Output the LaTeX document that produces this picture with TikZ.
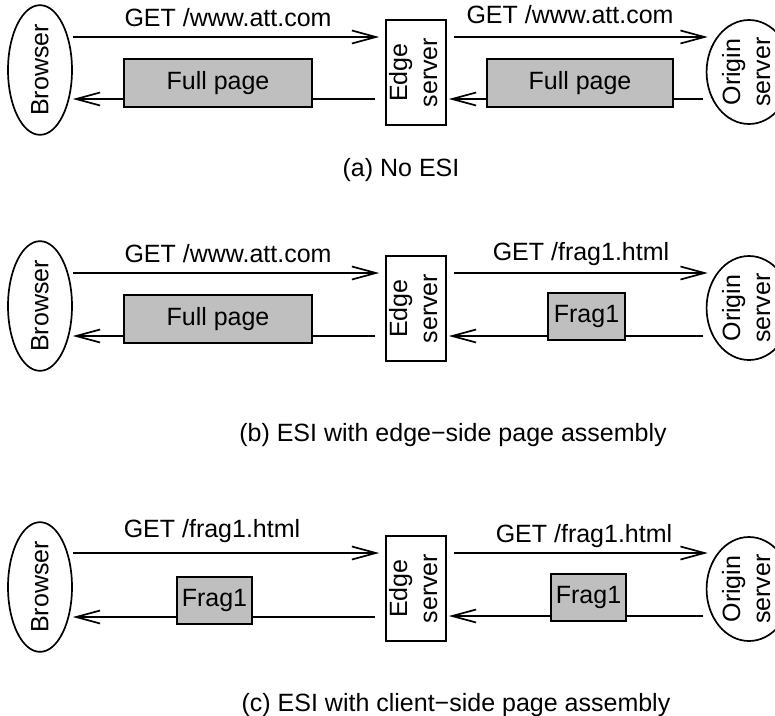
\documentclass[tikz,border=0pt]{standalone}
\usepackage{fontspec}
\setmainfont{Liberation Sans}
\usetikzlibrary{arrows.meta,shapes.geometric}
\tikzset{
  ln/.style={line width=1.7pt},
  arr/.style={ln,-{Straight Barb[length=24pt,width=13pt,line width=1.7pt]}},
  ell/.style={ln,draw,ellipse,inner sep=0pt},
  browser/.style={ell,minimum width=64pt,minimum height=114pt},
  origin/.style={ell,minimum width=58pt,minimum height=104pt},
  edgebox/.style={ln,draw,rectangle,inner sep=0pt,minimum width=58pt,minimum height=105pt},
  content/.style={ln,draw,fill=black!25,rectangle,inner sep=0pt,minimum height=48pt},
  lbl/.style={anchor=base,inner sep=0pt}
}
\newcommand{\twoline}[2]{\rotatebox{90}{\begin{tabular}{@{}c@{}}#1\\#2\end{tabular}}}
\begin{document}
\begin{tikzpicture}[x=1pt,y=-1pt,font=\fontsize{25}{30}\selectfont]
\useasboundingbox (0,0) rectangle (775,715);
\clip (0,0) rectangle (775,715);
% ---------------- (a) ----------------
\node[browser] (b1) at (40,70) {\rotatebox{90}{Browser}};
\node[edgebox] (e1) at (416,72.5) {\twoline{Edge}{server}};
\node[origin] (o1) at (749,72) {\twoline{Origin}{server}};
\draw[arr] (b1.east |- 0,37) -- ([xshift=-6pt]e1.west |- 0,37);
\draw[arr] ([xshift=7pt]e1.east |- 0,37) -- ([xshift=2pt]o1.west |- 0,37);
\draw[arr] ([xshift=-10pt]e1.west |- 0,99) -- (b1.east |- 0,99);
\draw[arr] ([xshift=-3pt]o1.west |- 0,99) -- ([xshift=2pt]e1.east |- 0,99);
\node[content,minimum width=188pt] (c1) at (218,83) {Full page};
\node[content,minimum width=186pt] (c2) at (580,83) {Full page};
\node[lbl] (t1) at (228,26) {GET /www.att.com};
\node[lbl] (t2) at (570,23) {GET /www.att.com};
\node[lbl] (capa) at (401,176) {(a) No ESI};
% ---------------- (b) ----------------
\node[browser] (b2) at (40,306) {\rotatebox{90}{Browser}};
\node[edgebox] (e2) at (416,308.5) {\twoline{Edge}{server}};
\node[origin] (o2) at (749,308) {\twoline{Origin}{server}};
\draw[arr] (b2.east |- 0,273) -- ([xshift=-6pt]e2.west |- 0,273);
\draw[arr] ([xshift=7pt]e2.east |- 0,273) -- ([xshift=2pt]o2.west |- 0,273);
\draw[arr] ([xshift=-10pt]e2.west |- 0,336) -- (b2.east |- 0,336);
\draw[arr] ([xshift=-3pt]o2.west |- 0,336) -- ([xshift=2pt]e2.east |- 0,336);
\node[content,minimum width=188pt] (c3) at (218,319) {Full page};
\node[content,minimum width=77pt,minimum height=47pt] (c4) at (586.5,316.5) {Frag1};
\node[lbl] (t3) at (228,262) {GET /www.att.com};
\node[lbl] (t4) at (581,260) {GET /frag1.html};
\node[lbl] (capb) at (453,441) {(b) ESI with edge\textminus side page assembly};
% ---------------- (c) ----------------
\node[browser] (b3) at (40,587) {\rotatebox{90}{Browser}};
\node[edgebox] (e3) at (416,588.5) {\twoline{Edge}{server}};
\node[origin] (o3) at (749,589) {\twoline{Origin}{server}};
\draw[arr] (b3.east |- 0,553) -- ([xshift=-6pt]e3.west |- 0,553);
\draw[arr] ([xshift=7pt]e3.east |- 0,553) -- ([xshift=2pt]o3.west |- 0,553);
\draw[arr] ([xshift=-10pt]e3.west |- 0,617) -- (b3.east |- 0,617);
\draw[arr] ([xshift=-3pt]o3.west |- 0,616) -- ([xshift=2pt]e3.east |- 0,616);
\node[content,minimum width=75pt,minimum height=47pt] (c5) at (214.5,600.5) {Frag1};
\node[content,minimum width=75pt,minimum height=47pt] (c6) at (588.5,597.5) {Frag1};
\node[lbl] (t5) at (212,537) {GET /frag1.html};
\node[lbl] (t6) at (584,542) {GET /frag1.html};
\node[lbl] (capc) at (456,711) {(c) ESI with client\textminus side page assembly};
\end{tikzpicture}
\end{document}
